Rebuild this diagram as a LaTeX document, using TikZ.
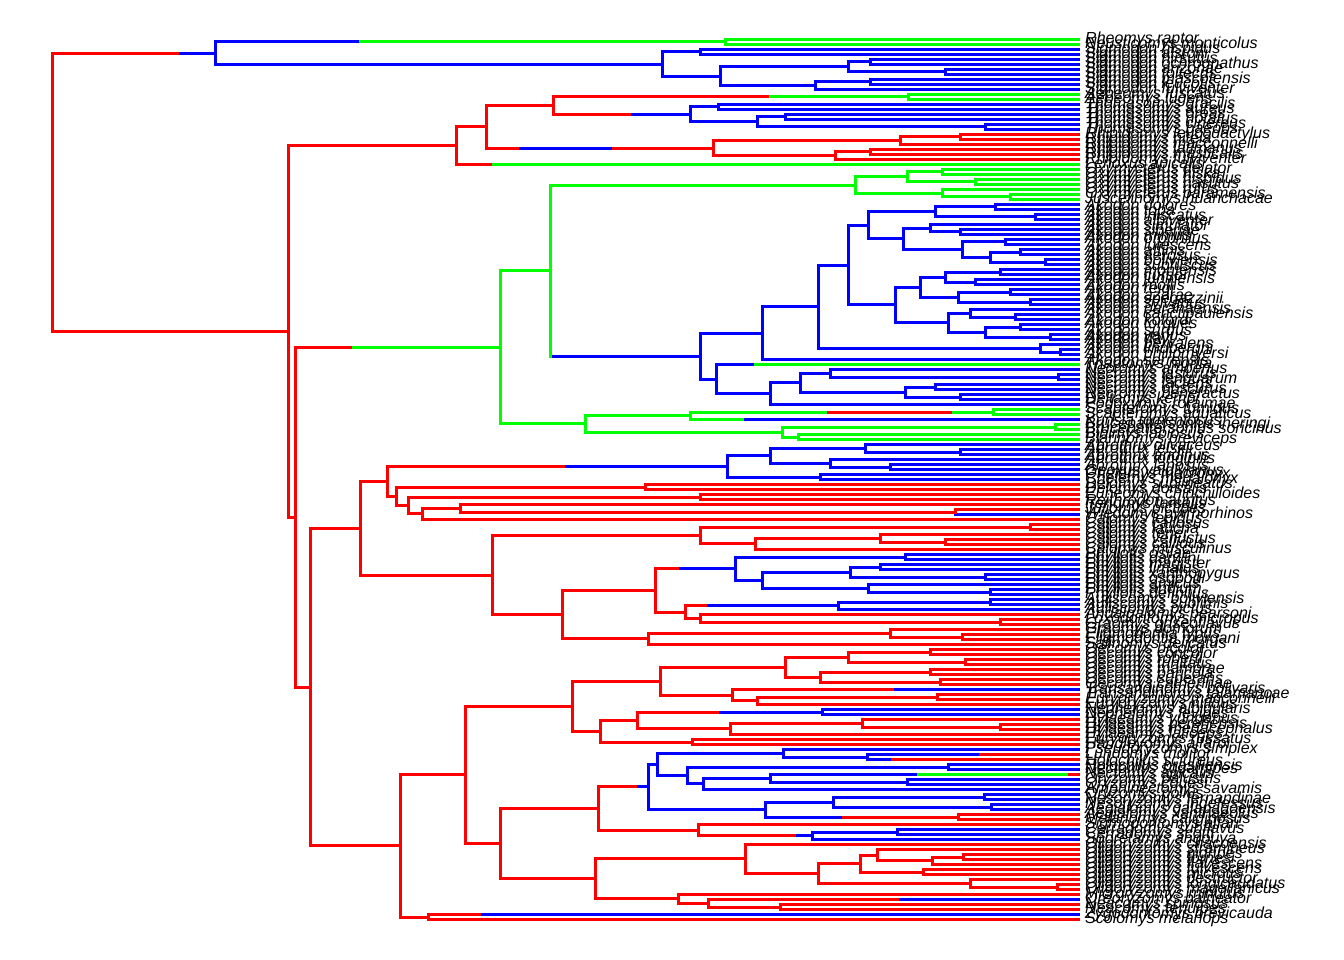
\documentclass[tikz,border=0pt]{standalone}
\usepackage{fontspec}
\setmainfont{Liberation Sans}
\usetikzlibrary{calc}
\tikzset{
  cr/.style={draw=red, line width=3pt, line cap=rect},
  cb/.style={draw=blue, line width=3pt, line cap=rect},
  cg/.style={draw=green, line width=3pt, line cap=rect},
  lab/.style={anchor=west, inner sep=0pt, font=\itshape\fontsize{16}{16}\selectfont, text=black}
}
\newcommand\tip[2]{\coordinate (t#1) at (1078,{39.5+5*#1}); \node[lab] (L#1) at (1085,{39.5+5*#1}) {#2};}
\newcommand\nd[5]{\path let \p1=(#3), \p2=(#4) in coordinate (#1) at (#2pt,{0.5*\y1+0.5*\y2}); \draw[#5] (#1 |- #3) -- (#1 |- #4);}
\newcommand\br[3]{\draw[#3] (#1 |- #2) -- (#2);}
\newcommand\brr[5]{\draw[#4] let \p1=(#2) in (#1 |- #2) -- (#3pt,\y1); \draw[#5] let \p1=(#2) in (#3pt,\y1) -- (#2);}
\newcommand\brrr[7]{\draw[#5] let \p1=(#2) in (#1 |- #2) -- (#3pt,\y1); \draw[#6] let \p1=(#2) in (#3pt,\y1) -- (#4pt,\y1); \draw[#7] let \p1=(#2) in (#4pt,\y1) -- (#2);}
\newcommand\cl[5]{\nd{#1}{#2}{#3}{#4}{#5}\br{#1}{#3}{#5}\br{#1}{#4}{#5}}
\begin{document}
\begin{tikzpicture}[x=1pt,y=-1pt]
\fill[white] (0,0) rectangle (1344,960);
\useasboundingbox (0,0) rectangle (1344,960);
% tips
\tip{0}{Rheomys raptor}
\tip{1}{Neusticomys monticolus}
\tip{2}{Sigmodon hispidus}
\tip{3}{Sigmodon alstoni}
\tip{4}{Sigmodon hirsutus}
\tip{5}{Sigmodon ochrognathus}
\tip{6}{Sigmodon arizonae}
\tip{7}{Sigmodon toltecus}
\tip{8}{Sigmodon mascotensis}
\tip{9}{Sigmodon leucotis}
\tip{10}{Sigmodon fulviventer}
\tip{11}{Aepeomys fuscatus}
\tip{12}{Aepeomys lugens}
\tip{13}{Thomasomys gracilis}
\tip{14}{Thomasomys aureus}
\tip{15}{Thomasomys oreas}
\tip{16}{Thomasomys notatus}
\tip{17}{Thomasomys cinereus}
\tip{18}{Thomasomys baeops}
\tip{19}{Rhipidomys leucodactylus}
\tip{20}{Rhipidomys nitela}
\tip{21}{Rhipidomys macconnelli}
\tip{22}{Rhipidomys latimanus}
\tip{23}{Rhipidomys masticalis}
\tip{24}{Rhipidomys fulviventer}
\tip{25}{Lenoxus apicalis}
\tip{26}{Oxymycterus delator}
\tip{27}{Oxymycterus hiska}
\tip{28}{Oxymycterus hispidus}
\tip{29}{Oxymycterus nasutus}
\tip{30}{Oxymycterus rufus}
\tip{31}{Oxymycterus paramensis}
\tip{32}{Juscelinomys huanchacae}
\tip{33}{Akodon dolores}
\tip{34}{Akodon toba}
\tip{35}{Akodon iniscatus}
\tip{36}{Akodon albiventer}
\tip{37}{Akodon simulator}
\tip{38}{Akodon siberiae}
\tip{39}{Akodon mimus}
\tip{40}{Akodon orophilus}
\tip{41}{Akodon lutescens}
\tip{42}{Akodon affinis}
\tip{43}{Akodon aerosus}
\tip{44}{Akodon boliviensis}
\tip{45}{Akodon subfuscus}
\tip{46}{Akodon montensis}
\tip{47}{Akodon cursor}
\tip{48}{Akodon juninensis}
\tip{49}{Akodon mollis}
\tip{50}{Akodon reigi}
\tip{51}{Akodon azarae}
\tip{52}{Akodon spegazzinii}
\tip{53}{Akodon sylvanus}
\tip{54}{Akodon paranaensis}
\tip{55}{Akodon sanctipaulensis}
\tip{56}{Akodon kofordi}
\tip{57}{Akodon torques}
\tip{58}{Akodon surdus}
\tip{59}{Akodon varius}
\tip{60}{Akodon dayi}
\tip{61}{Akodon pervalens}
\tip{62}{Akodon lindberghi}
\tip{63}{Akodon philipmyersi}
\tip{64}{Akodon serrensis}
\tip{65}{Thaptomys nigrita}
\tip{66}{Necromys amoenus}
\tip{67}{Necromys lasiurus}
\tip{68}{Necromys lenguarum}
\tip{69}{Necromys lactens}
\tip{70}{Necromys obscurus}
\tip{71}{Necromys benefactus}
\tip{72}{Deltamys kempi}
\tip{73}{Podoxymys roraimae}
\tip{74}{Scapteromys tumidus}
\tip{75}{Scapteromys aquaticus}
\tip{76}{Kunsia tomentosus}
\tip{77}{Brucepattersonius iheringi}
\tip{78}{Brucepattersonius soricinus}
\tip{79}{Bibimys labiosus}
\tip{80}{Blarinomys breviceps}
\tip{81}{Abrothrix olivaceus}
\tip{82}{Abrothrix jelskii}
\tip{83}{Abrothrix andinus}
\tip{84}{Abrothrix longipilis}
\tip{85}{Abrothrix lanosus}
\tip{86}{Geoxus valdivianus}
\tip{87}{Chelemys macronyx}
\tip{88}{Chelemys megalonyx}
\tip{89}{Delomys sublineatus}
\tip{90}{Delomys dorsalis}
\tip{91}{Euneomys chinchilloides}
\tip{92}{Reithrodon auritus}
\tip{93}{Irenomys tarsalis}
\tip{94}{Juliomys pictipes}
\tip{95}{Wiedomys pyrrhorhinos}
\tip{96}{Calomys lepidus}
\tip{97}{Calomys callosus}
\tip{98}{Calomys laucha}
\tip{99}{Calomys tener}
\tip{100}{Calomys venustus}
\tip{101}{Calomys callidus}
\tip{102}{Calomys musculinus}
\tip{103}{Phyllotis osilae}
\tip{104}{Phyllotis darwini}
\tip{105}{Phyllotis magister}
\tip{106}{Phyllotis limatus}
\tip{107}{Phyllotis xanthopygus}
\tip{108}{Phyllotis osgoodi}
\tip{109}{Phyllotis amicus}
\tip{110}{Phyllotis andium}
\tip{111}{Phyllotis definitus}
\tip{112}{Auliscomys boliviensis}
\tip{113}{Auliscomys sublimis}
\tip{114}{Auliscomys pictus}
\tip{115}{Andalgalomys pearsoni}
\tip{116}{Loxodontomys micropus}
\tip{117}{Graomys griseoflavus}
\tip{118}{Graomys domorum}
\tip{119}{Eligmodontia typus}
\tip{120}{Eligmodontia morgani}
\tip{121}{Salinomys delicatus}
\tip{122}{Oecomys bicolor}
\tip{123}{Oecomys concolor}
\tip{124}{Oecomys roberti}
\tip{125}{Oecomys trinitatis}
\tip{126}{Oecomys mamorae}
\tip{127}{Oecomys paricola}
\tip{128}{Oecomys superans}
\tip{129}{Oecomys catherinae}
\tip{130}{Transandinomys bolivaris}
\tip{131}{Transandinomys talamancae}
\tip{132}{Euryoryzomys macconnelli}
\tip{133}{Euryoryzomys nitidus}
\tip{134}{Nephelomys albigularis}
\tip{135}{Nephelomys levipes}
\tip{136}{Hylaeamys yunganus}
\tip{137}{Hylaeamys perenensis}
\tip{138}{Hylaeamys megacephalus}
\tip{139}{Hylaeamys laticeps}
\tip{140}{Euryoryzomys russatus}
\tip{141}{Handleyomys alfaroi}
\tip{142}{Pseudoryzomys simplex}
\tip{143}{Lundomys molitor}
\tip{144}{Holochilus sciureus}
\tip{145}{Holochilus brasiliensis}
\tip{146}{Nectomys squamipes}
\tip{147}{Nectomys apicalis}
\tip{148}{Oryzomys palustris}
\tip{149}{Oryzomys couesi}
\tip{150}{Amphinectomys savamis}
\tip{151}{Oryzomys polius}
\tip{152}{Nesoryzomys fernandinae}
\tip{153}{Nesoryzomys indefessus}
\tip{154}{Aegialomys galapagoensis}
\tip{155}{Aegialomys xanthaeolus}
\tip{156}{Melanomys caliginosus}
\tip{157}{Sigmodontomys alfari}
\tip{158}{Cerradomys subflavus}
\tip{159}{Cerradomys scotti}
\tip{160}{Sooretamys angouya}
\tip{161}{Oligoryzomys chacoensis}
\tip{162}{Oligoryzomys stramineus}
\tip{163}{Oligoryzomys nigripes}
\tip{164}{Oligoryzomys fornesi}
\tip{165}{Oligoryzomys flavescens}
\tip{166}{Oligoryzomys fulvescens}
\tip{167}{Oligoryzomys microtis}
\tip{168}{Oligoryzomys destructor}
\tip{169}{Oligoryzomys longicaudatus}
\tip{170}{Oligoryzomys magellanicus}
\tip{171}{Microryzomys minutus}
\tip{172}{Oreoryzomys balneator}
\tip{173}{Neacomys spinosus}
\tip{174}{Neacomys tenuipes}
\tip{175}{Zygodontomys brevicauda}
\tip{176}{Scolomys melanops}
% Ichthyomyini + Sigmodon
\cl{ich}{725}{t0}{t1}{cg}
\cl{sA}{700}{t2}{t3}{cb}
\cl{sB}{870}{t4}{t5}{cb}
\cl{sC}{945}{t6}{t7}{cb}
\cl{sD}{848}{sB}{sC}{cb}
\cl{sE}{870}{t8}{t9}{cb}
\cl{sF}{815}{sE}{t10}{cb}
\cl{sG}{720}{sD}{sF}{cb}
\cl{sig}{662}{sA}{sG}{cb}
\nd{top}{215}{ich}{sig}{cb}\brr{top}{ich}{360}{cb}{cg}\br{top}{sig}{cb}
% Thomasomyini
\cl{aep}{908}{t11}{t12}{cg}
\cl{tA}{718}{t13}{t14}{cb}
\cl{tC}{785}{t15}{t16}{cb}
\cl{tE}{985}{t17}{t18}{cb}
\cl{tB}{757}{tC}{tE}{cb}
\cl{tho}{690}{tA}{tB}{cb}
\nd{n553}{553}{aep}{tho}{cr}\brr{n553}{aep}{770}{cr}{cg}\brr{n553}{tho}{632}{cr}{cb}
\cl{rA}{960}{t19}{t20}{cr}
\cl{rB}{900}{rA}{t21}{cr}
\cl{rC}{870}{t22}{t23}{cr}
\cl{rD}{835}{rC}{t24}{cr}
\cl{rhi}{713}{rB}{rD}{cr}
\nd{n486}{486}{n553}{rhi}{cr}\br{n486}{n553}{cr}\brrr{n486}{rhi}{520}{613}{cr}{cb}{cr}
\nd{n456}{456}{n486}{t25}{cr}\br{n456}{n486}{cr}\brr{n456}{t25}{493}{cr}{cg}
% Oxymycterus
\cl{oA}{942}{t26}{t27}{cg}
\cl{oB}{975}{t28}{t29}{cg}
\cl{oC}{907}{oA}{oB}{cg}
\cl{oD}{1010}{t31}{t32}{cg}
\cl{oE}{942}{t30}{oD}{cg}
\cl{oxy}{855}{oC}{oE}{cg}
% Akodon
\cl{k1}{995}{t33}{t34}{cb}
\cl{k2}{1035}{t35}{t36}{cb}
\cl{k3}{935}{k1}{k2}{cb}
\cl{k4}{960}{t38}{t39}{cb}
\cl{k5}{930}{t37}{k4}{cb}
\cl{k6}{1005}{t40}{t41}{cb}
\cl{k7}{1020}{t42}{t43}{cb}
\cl{k9}{1045}{t44}{t45}{cb}
\cl{k10}{990}{k7}{k9}{cb}
\cl{k11}{962}{k6}{k10}{cb}
\cl{k12}{903}{k5}{k11}{cb}
\cl{k13}{868}{k3}{k12}{cb}
\cl{k14}{1000}{t46}{t47}{cb}
\cl{k15}{975}{t48}{t49}{cb}
\cl{k16}{945}{k14}{k15}{cb}
\cl{k17}{1010}{t50}{t51}{cb}
\cl{k18}{1030}{t52}{t53}{cb}
\cl{k19}{958}{k17}{k18}{cb}
\cl{k20}{920}{k16}{k19}{cb}
\cl{k21}{1015}{t55}{t56}{cb}
\cl{k22}{970}{t54}{k21}{cb}
\cl{k23}{1020}{t57}{t58}{cb}
\cl{k24}{1050}{t59}{t60}{cb}
\cl{k26}{985}{k23}{k24}{cb}
\cl{k27}{948}{k22}{k26}{cb}
\cl{k28}{895}{k20}{k27}{cb}
\cl{k29}{848}{k13}{k28}{cb}
\cl{k30}{1060}{t62}{t63}{cb}
\cl{k31}{1040}{t61}{k30}{cb}
\cl{k32}{818}{k29}{k31}{cb}
\cl{k33}{762}{k32}{t64}{cb}
% Necromys
\cl{m1}{1058}{t67}{t68}{cb}
\cl{m2}{830}{t66}{m1}{cb}
\cl{m3}{935}{t69}{t70}{cb}
\cl{m4}{960}{t71}{t72}{cb}
\cl{m5}{905}{m3}{m4}{cb}
\cl{m6}{800}{m2}{m5}{cb}
\cl{m7}{770}{m6}{t73}{cb}
\nd{m8}{716}{t65}{m7}{cb}\brr{m8}{t65}{755}{cb}{cg}\br{m8}{m7}{cb}
\cl{akn}{700}{k33}{m8}{cb}
\nd{n550}{550}{oxy}{akn}{cg}\br{n550}{oxy}{cg}\brr{n550}{akn}{553}{cg}{cb}
% Scapteromyini
\cl{sc1}{993}{t74}{t75}{cg}
\nd{sc2}{690}{sc1}{t76}{cg}\brrr{sc2}{sc1}{828}{953}{cg}{cr}{cg}\brr{sc2}{t76}{745}{cg}{cb}
\cl{sc3}{1055}{t77}{t78}{cg}
\cl{sc4}{798}{t79}{t80}{cg}
\cl{sc5}{782}{sc3}{sc4}{cg}
\cl{sc6}{585}{sc2}{sc5}{cg}
\cl{n500}{500}{n550}{sc6}{cg}
% Abrothrichini
\cl{b1}{960}{t82}{t83}{cb}
\cl{b2}{865}{t81}{b1}{cb}
\cl{b3}{890}{t85}{t86}{cb}
\cl{b4}{830}{t84}{b3}{cb}
\cl{b5}{770}{b2}{b4}{cb}
\cl{b7}{820}{t87}{t88}{cb}
\cl{abr}{727}{b5}{b7}{cb}
\cl{p2}{645}{t89}{t90}{cr}
\cl{p3}{700}{t91}{t92}{cr}
\nd{p4}{955}{t94}{t95}{cr}\br{p4}{t94}{cr}\br{p4}{t95}{cb}
\cl{p5}{460}{t93}{p4}{cr}
\cl{p6}{422}{p5}{t96}{cr}
\cl{p7}{408}{p3}{p6}{cr}
\cl{p8}{396}{p2}{p7}{cr}
\nd{n387}{387}{abr}{p8}{cr}\brr{n387}{abr}{566}{cr}{cb}\br{n387}{p8}{cr}
% Phyllotini
\cl{c1}{1030}{t97}{t98}{cr}
\cl{c2}{945}{t100}{t101}{cr}
\cl{c3}{880}{t99}{c2}{cr}
\cl{c4}{755}{c3}{t102}{cr}
\cl{cal}{700}{c1}{c4}{cr}
\cl{f1}{905}{t103}{t104}{cb}
\cl{f2}{880}{t105}{t106}{cb}
\cl{f3}{985}{t107}{t108}{cb}
\cl{f4}{850}{f2}{f3}{cb}
\cl{f5}{990}{t110}{t111}{cb}
\cl{f6}{868}{t109}{f5}{cb}
\cl{f7}{762}{f4}{f6}{cb}
\cl{f8}{735}{f1}{f7}{cb}
\cl{f9}{990}{t112}{t113}{cb}
\cl{f10}{838}{f9}{t114}{cb}
\cl{f11}{1000}{t116}{t117}{cr}
\cl{f12}{700}{t115}{f11}{cr}
\nd{f13}{685}{f10}{f12}{cr}\brr{f13}{f10}{708}{cr}{cb}\br{f13}{f12}{cr}
\nd{f14}{655}{f8}{f13}{cr}\brr{f14}{f8}{680}{cr}{cb}\br{f14}{f13}{cr}
\cl{g1}{962}{t119}{t120}{cr}
\cl{g2}{890}{t118}{g1}{cr}
\cl{g3}{648}{g2}{t121}{cr}
\cl{g4}{562}{f14}{g3}{cr}
\cl{g5}{492}{cal}{g4}{cr}
\cl{n360}{360}{n387}{g5}{cr}
% Oryzomyini
\cl{o1}{930}{t122}{t123}{cr}
\cl{o2}{965}{t124}{t125}{cr}
\cl{o3}{848}{o1}{o2}{cr}
\cl{o4}{930}{t126}{t127}{cr}
\cl{o5}{940}{t128}{t129}{cr}
\cl{o6}{820}{o4}{o5}{cr}
\cl{o7}{785}{o3}{o6}{cr}
\cl{o8}{937}{t131}{t132}{cr}
\cl{o9}{757}{o8}{t133}{cr}
\nd{o10}{732}{t130}{o9}{cr}\brr{o10}{t130}{895}{cr}{cb}\br{o10}{o9}{cr}
\cl{o11}{660}{o7}{o10}{cr}
\cl{o12}{822}{t134}{t135}{cb}
\cl{o13b}{1000}{t137}{t138}{cr}
\cl{o13}{862}{t136}{o13b}{cr}
\cl{o14}{730}{o13}{t139}{cr}
\nd{o15}{637}{o12}{o14}{cr}\brr{o15}{o12}{720}{cr}{cb}\br{o15}{o14}{cr}
\cl{o17}{692}{t140}{t141}{cr}
\cl{o18}{600}{o15}{o17}{cr}
\cl{o19}{572}{o11}{o18}{cr}
% blue Oryzomyini
\nd{q1}{867}{t143}{t144}{cb}\brr{q1}{t143}{980}{cb}{cr}\brr{q1}{t144}{892}{cb}{cr}
\cl{q2}{783}{t142}{q1}{cb}
\cl{q3}{948}{t145}{t146}{cb}
\cl{q4}{907}{t148}{t149}{cb}
\nd{q5}{770}{t147}{q4}{cb}\brrr{q5}{t147}{918}{1069}{cb}{cg}{cr}\br{q5}{q4}{cb}
\cl{q6}{703}{q5}{t150}{cb}
\cl{q7}{687}{q3}{q6}{cb}
\cl{q8}{657}{q2}{q7}{cb}
\cl{q9}{984}{t151}{t152}{cb}
\cl{q10}{991}{t153}{t154}{cb}
\cl{q11}{833}{q9}{q10}{cb}
\cl{q12}{958}{t155}{t156}{cr}
\nd{q13}{765}{q11}{q12}{cb}\br{q13}{q11}{cb}\brr{q13}{q12}{843}{cb}{cr}
\cl{q14}{648}{q8}{q13}{cb}
\cl{q15}{897}{t158}{t159}{cb}
\cl{q16}{812}{q15}{t160}{cb}
\nd{q17}{698}{t157}{q16}{cr}\br{q17}{t157}{cr}\brr{q17}{q16}{797}{cr}{cb}
\nd{q18}{598}{q14}{q17}{cr}\brr{q18}{q14}{638}{cr}{cb}\br{q18}{q17}{cr}
% Oligoryzomys
\cl{w1}{963}{t163}{t164}{cr}
\cl{w2}{932}{w1}{t165}{cr}
\cl{w3}{877}{t162}{w2}{cr}
\cl{w4}{923}{t166}{t167}{cr}
\cl{w5}{860}{w3}{w4}{cr}
\cl{w6}{1057}{t169}{t170}{cr}
\cl{w7}{970}{t168}{w6}{cr}
\cl{w8}{818}{w5}{w7}{cr}
\cl{w9}{745}{t161}{w8}{cr}
\cl{w10}{780}{t173}{t174}{cr}
\nd{w11}{708}{t172}{w10}{cr}\brr{w11}{t172}{900}{cr}{cb}\br{w11}{w10}{cr}
\cl{w12}{678}{t171}{w11}{cr}
\cl{w15}{595}{w9}{w12}{cr}
\cl{n500b}{500}{q18}{w15}{cr}
\cl{n465}{465}{o19}{n500b}{cr}
\nd{n428}{428}{t175}{t176}{cr}\brr{n428}{t175}{482}{cr}{cb}\br{n428}{t176}{cr}
\cl{n400}{400}{n465}{n428}{cr}
\cl{n310}{310}{n360}{n400}{cr}
\nd{n295}{295}{n500}{n310}{cr}\brr{n295}{n500}{353}{cr}{cg}\br{n295}{n310}{cr}
\cl{n288}{288}{n456}{n295}{cr}
\nd{root}{52}{top}{n288}{cr}\brr{root}{top}{180}{cr}{cb}\br{root}{n288}{cr}
\end{tikzpicture}
\end{document}
